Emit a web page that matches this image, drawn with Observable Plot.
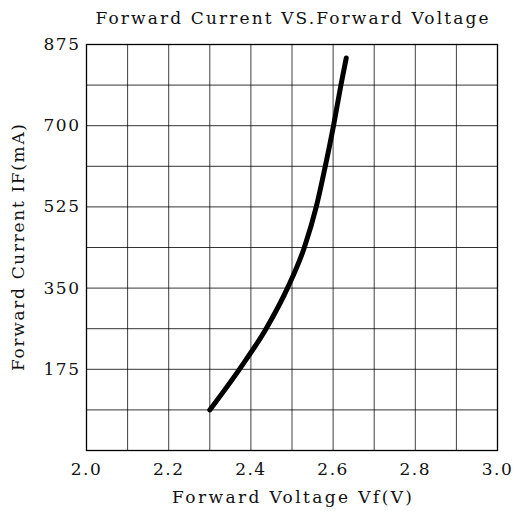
<!DOCTYPE html>
<html>
<head>
<meta charset="utf-8">
<script src="https://cdn.jsdelivr.net/npm/d3@7"></script>
<script src="https://cdn.jsdelivr.net/npm/@observablehq/plot@0.6"></script>
<style>
  html, body { margin: 0; padding: 0; background: #fff; }
</style>
</head>
<body>
<div id="chart"></div>
<script>
const titleText = "Forward Current VS.Forward Voltage";
const xLabel = "Forward Voltage Vf(V)";
const yLabel = "Forward Current IF(mA)";

const voltage = [2.30, 2.372, 2.437, 2.489, 2.530, 2.559, 2.581, 2.601, 2.619, 2.632];
const current = [87.5, 175, 262.5, 350, 437.5, 525, 612.5, 700, 787.5, 846];

const xTicks = [2.0, 2.2, 2.4, 2.6, 2.8, 3.0];
const yTicks = [175, 350, 525, 700, 875];
const xGrid = [2.1, 2.2, 2.3, 2.4, 2.5, 2.6, 2.7, 2.8, 2.9];
const yGrid = [87.5, 175, 262.5, 350, 437.5, 525, 612.5, 700, 787.5];

const data = voltage.map((v, i) => ({v, i: current[i]}));
const font = "DejaVu Serif, Liberation Serif, serif";

const chart = Plot.plot({
  width: 517,
  height: 514,
  marginTop: 44,
  marginBottom: 64,
  marginLeft: 86,
  marginRight: 20,
  style: {fontFamily: font, fontSize: "17px", color: "#111", background: "#fff"},
  x: {domain: [2.0, 3.0]},
  y: {domain: [0, 875]},
  marks: [
    Plot.gridX(xGrid, {stroke: "#000", strokeOpacity: 0.75, strokeWidth: 1}),
    Plot.gridY(yGrid, {stroke: "#000", strokeOpacity: 0.8, strokeWidth: 1}),
    Plot.frame({stroke: "#000", strokeWidth: 1.3}),
    Plot.axisX(xTicks, {tickSize: 0, tickPadding: 12, tickFormat: d3.format(".1f"), fontSize: 17, label: null}),
    Plot.axisY(yTicks, {tickSize: 0, tickPadding: 6, fontSize: 17, label: null}),
    Plot.line(data, {x: "v", y: "i", stroke: "#000", strokeWidth: 5, strokeLinecap: "round", curve: "monotone-x"}),
    Plot.text([titleText], {frameAnchor: "top", dy: -33, fontSize: 17, text: d => d}),
    Plot.text([xLabel], {frameAnchor: "bottom", dy: 52, fontSize: 17, text: d => d}),
    Plot.text([yLabel], {frameAnchor: "left", dx: -68, rotate: -90, textAnchor: "middle", fontSize: 17, text: d => d})
  ]
});
const lengths = new Map([[titleText, 393], [xLabel, 240], [yLabel, 247]]);
d3.select(chart).selectAll("text").each(function() {
  const t = this.textContent;
  if (lengths.has(t)) {
    this.setAttribute("textLength", lengths.get(t));
    this.setAttribute("lengthAdjust", "spacing");
  } else if (/^\d/.test(t)) {
    this.style.letterSpacing = "1.5px";
  }
});
document.getElementById("chart").appendChild(chart);
</script>
</body>
</html>
